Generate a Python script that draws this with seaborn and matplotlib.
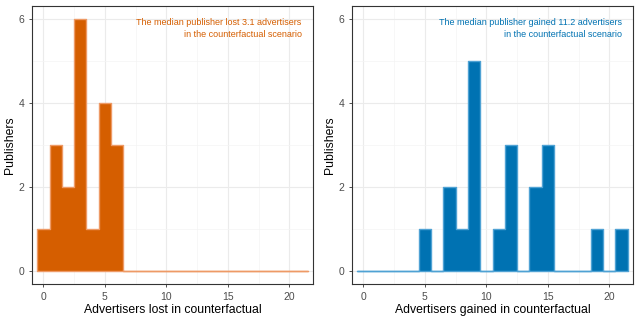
import numpy as np
import pandas as pd
import matplotlib
matplotlib.use("Agg")
import matplotlib.pyplot as plt
import seaborn as sns

# Data: publishers per number of advertisers (bins centred on integers 0..21)
advertisers = list(range(0, 22))
lost_counts = [1, 3, 2, 6, 1, 4, 3] + [0] * 15
gained_counts = [0, 0, 0, 0, 0, 1, 0, 2, 1, 5, 0, 1, 3, 0, 2, 3, 0, 0, 0, 1, 0, 1]

lost_label = "Advertisers lost in counterfactual"
gained_label = "Advertisers gained in counterfactual"
lost_note = "The median publisher lost 3.1 advertisers\nin the counterfactual scenario"
gained_note = "The median publisher gained 11.2 advertisers\nin the counterfactual scenario"
y_label = "Publishers"
x_ticks = [0, 5, 10, 15, 20]
y_ticks = [0, 2, 4, 6]

sns.set_theme(style="white")
plt.rcParams['font.family'] = ['Liberation Sans', 'DejaVu Sans']

fig = plt.figure(figsize=(6.4, 3.2), dpi=100)
ax1 = fig.add_axes([32/640, 36/320, 281/640, 278/320])
ax2 = fig.add_axes([352/640, 36/320, 281/640, 278/320])

panels = [
    (ax1, lost_counts, lost_label, lost_note, "#D55E00", "#EE9A66"),
    (ax2, gained_counts, gained_label, gained_note, "#0072B2", "#4FA2D4"),
]

for ax, counts, xlabel, note, col, edge in panels:
    df = pd.DataFrame({"x": advertisers, "n": counts})
    sns.histplot(data=df, x="x", weights="n", binwidth=1, binrange=(-0.5, 21.5),
                 element="step", fill=True, color=col, alpha=1,
                 edgecolor=edge, linewidth=1.0, ax=ax, zorder=3)
    ax.set_xlim(-0.925, 21.925)
    ax.set_ylim(-0.3, 6.3)
    ax.set_xticks(x_ticks)
    ax.set_yticks(y_ticks)
    ax.set_xticks([2.5, 7.5, 12.5, 17.5], minor=True)
    ax.set_yticks([1, 3, 5], minor=True)
    ax.grid(True, which="major", color="#EBEBEB", linewidth=0.8, zorder=0)
    ax.grid(True, which="minor", color="#F4F4F4", linewidth=0.5, zorder=0)
    ax.set_axisbelow(True)
    for s in ax.spines.values():
        s.set_color("#333333")
        s.set_linewidth(0.8)
    ax.tick_params(axis="both", which="major", length=2.5, width=0.6,
                   color="#333333", labelcolor="#4D4D4D", labelsize=7.5, pad=3,
                   bottom=True, left=True)
    ax.tick_params(axis="both", which="minor", length=0)
    ax.set_xlabel(xlabel, fontsize=8.8, color="black", labelpad=1.5)
    ax.set_ylabel(y_label, fontsize=8.8, color="black", labelpad=1.5)
    ax.text(21, 6.02, note, ha="right", va="top", fontsize=6.5, color=col,
            linespacing=1.5)

fig.savefig("out.png", dpi=100)
